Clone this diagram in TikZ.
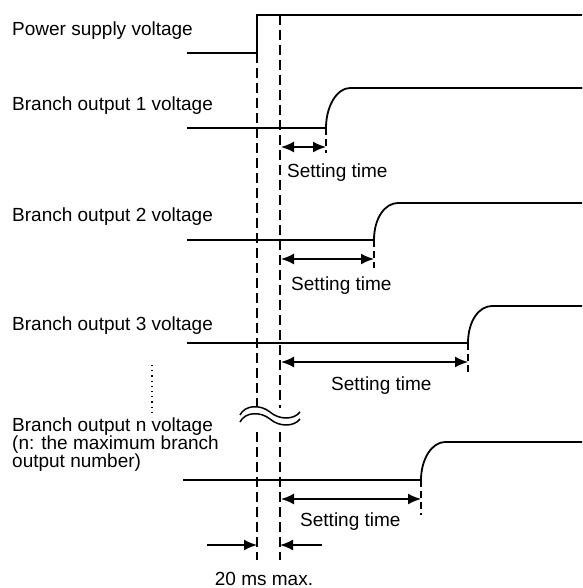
\documentclass[tikz,border=0pt]{standalone}
\usepackage{fontspec}
\setmainfont{Liberation Sans}
\usepackage{tikz}
\usetikzlibrary{arrows.meta}

\tikzset{
    signal/.style={line width=1.8pt},
    guideline/.style={line width=1.6pt, dash pattern=on 10pt off 5pt},
    tickline/.style={line width=1.6pt, dash pattern=on 7pt off 4pt},
    span/.style={line width=1.8pt, {Latex[length=13pt,width=11pt]}-{Latex[length=13pt,width=11pt]}},
    onetip/.style={line width=1.8pt, -{Latex[length=13pt,width=11pt]}},
    lbl/.style={anchor=base west, inner sep=0pt, font=\fontsize{19}{18}\selectfont},
}

\begin{document}
\begin{tikzpicture}[x=1pt,y=-1pt]
    \useasboundingbox (0,0) rectangle (582,588);

    % Power supply voltage
    \node[lbl] (psv) at (12,36) {Power supply voltage};
    \coordinate (ps0) at (187,53);
    \coordinate (ps1) at (257,53);
    \coordinate (ps2) at (257,15);
    \coordinate (ps3) at (582,15);
    \draw[signal] (ps0) -- (ps1) -- (ps2) -- (ps3);

    % Draw the two guide lines, cut by the break mark
    \draw[guideline] (257,53) -- (257,407);
    \draw[guideline] (257,432) -- (257,560);
    \draw[guideline] (280,15) -- (280,408);
    \draw[guideline] (280,432) -- (280,560);

    % Branch outputs 1 to 3
    \foreach \i/\lb/\lo/\hi/\xe/\ya/\ye/\xt/\tb in {1/111/128/88/326/147/153/287/178,
                                                  2/221/240/203/374/259/268/291/290,
                                                  3/330/343/306/468/362/372/331/390} {
        \node[lbl] (lab\i) at (12,\lb) {Branch output \i\ voltage};
        \coordinate (lo\i) at (187,\lo);
        \coordinate (up\i) at (\xe,\lo);
        \coordinate (hi\i) at ({\xe+24},\hi);
        \coordinate (end\i) at (582,\hi);
        \draw[signal] (lo\i) -- (up\i) .. controls +(0,-22) and +(-13,0) .. (hi\i) -- (end\i);

        % setting time span
        \coordinate (sa\i) at (281,\ya);
        \coordinate (sb\i) at (\xe,\ya);
        \coordinate (tk\i) at (\xe,\ye);
        \draw[tickline] (up\i) -- (tk\i);
        \draw[span] (sa\i) -- (sb\i);
        \node[lbl] (set\i) at (\xt,\tb) {Setting time};
    }

    % Dots between branch 3 and branch n
    \draw[line width=1.2pt, dash pattern=on 1.2pt off 4pt] (152,365) -- (152,417);

    % Break mark
    \draw[line width=1.5pt] (240,415) .. controls (245,405) and (260,404) .. (270,412)
        .. controls (279,420) and (294,420) .. (300,412);
    \draw[line width=1.5pt] (240,422) .. controls (245,412) and (260,411) .. (270,419)
        .. controls (279,427) and (294,427) .. (300,419);

    % Branch output n
    \node[lbl, anchor=north west, align=left] (labn) at (12,418)
        {Branch output n voltage\\(n: the maximum branch\\output number)};
    \coordinate (lon) at (183,480);
    \coordinate (upn) at (421,480);
    \coordinate (hin) at (445,442);
    \coordinate (endn) at (582,442);
    \draw[signal] (lon) -- (upn) .. controls +(0,-21) and +(-13,0) .. (hin) -- (endn);
    \coordinate (san) at (281,499);
    \coordinate (sbn) at (421,499);
    \coordinate (tkn) at (421,515);
    \draw[tickline] (upn) -- (tkn);
    \draw[span] (san) -- (sbn);
    \node[lbl] (setn) at (300,526) {Setting time};

    % 20 ms max.
    \coordinate (ml0) at (207,545);
    \coordinate (ml1) at (257,545);
    \coordinate (mr0) at (322,545);
    \coordinate (mr1) at (280,545);
    \draw[onetip] (ml0) -- (ml1);
    \draw[onetip] (mr0) -- (mr1);
    \node[lbl, anchor=base] (maxt) at (264,585) {20 ms max.};
\end{tikzpicture}
\end{document}
